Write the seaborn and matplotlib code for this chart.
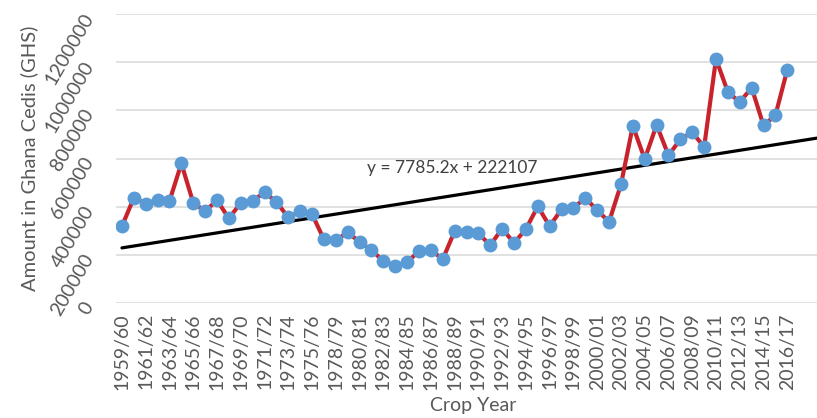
import numpy as np
import pandas as pd
import matplotlib
matplotlib.use("Agg")
import matplotlib.pyplot as plt
import seaborn as sns

# crop years (1977/78 is absent in the source series)
crop_years = [
    "1959/60", "1960/61", "1961/62", "1962/63", "1963/64", "1964/65", "1965/66",
    "1966/67", "1967/68", "1968/69", "1969/70", "1970/71", "1971/72", "1972/73",
    "1973/74", "1974/75", "1975/76", "1976/77", "1978/79", "1979/80", "1980/81",
    "1981/82", "1982/83", "1983/84", "1984/85", "1985/86", "1986/87", "1987/88",
    "1988/89", "1989/90", "1990/91", "1991/92", "1992/93", "1993/94", "1994/95",
    "1995/96", "1996/97", "1997/98", "1998/99", "1999/00", "2000/01", "2001/02",
    "2002/03", "2003/04", "2004/05", "2005/06", "2006/07", "2007/08", "2008/09",
    "2009/10", "2010/11", "2011/12", "2012/13", "2013/14", "2014/15", "2015/16",
    "2016/17",
]

# amount in Ghana cedis
amount_ghs = [
    320000, 437000, 414000, 428000, 424000, 580000, 417000, 382000, 428000, 352000,
    417000, 425000, 460000, 421000, 356000, 382000, 370000, 265000, 262000, 294000,
    255000, 221000, 175000, 156000, 170000, 217000, 221000, 183000, 299000, 294000,
    290000, 241000, 310000, 250000, 308000, 402000, 320000, 390000, 396000, 437000,
    386000, 338000, 493000, 736000, 598000, 740000, 614000, 680000, 710000, 648000,
    1014000, 876000, 835000, 894000, 738000, 780000, 969000,
]

# linear trend as printed on the chart (x = 1, 2, 3, ...)
trend_slope = 7785.2
trend_intercept = 222107
trend_label = "y = 7785.2x + 222107"

y_ticks = [0, 200000, 400000, 600000, 800000, 1000000, 1200000]

df = pd.DataFrame({"year": crop_years, "amount": amount_ghs})
df["pos"] = np.arange(len(df))

sns.set_theme(style="white")
plt.rcParams["font.family"] = ["Lato", "DejaVu Sans"]

fig = plt.figure(figsize=(8.17, 4.18), dpi=100)
ax = fig.add_axes([0.142, 0.2744, 0.858, 0.692])

x_right = 58.5
ax.set_xlim(-0.5, x_right)
ax.set_ylim(0, 1200000)

for t in y_ticks:
    ax.axhline(t, color="#D9D9D9", lw=1.1, zorder=0)

# trend line from the printed equation, extended to the right edge
tx = np.array([0, x_right])
ax.plot(tx, trend_slope * (tx + 1) + trend_intercept, color="black", lw=2.3, zorder=2)

sns.lineplot(data=df, x="pos", y="amount", ax=ax, color="#C8232C", lw=3.0,
             marker="o", markersize=10, markerfacecolor="#5B9BD5",
             markeredgecolor="#5B9BD5", markeredgewidth=0, zorder=3)

ax.text(20.6, 560000, trend_label, fontsize=12.5, color="#404040", va="center", ha="left")

for s in ax.spines.values():
    s.set_visible(False)

ax.set_xticks(df["pos"][::2])
ax.set_xticklabels(df["year"][::2], rotation=90, fontsize=14, color="#595959")
ax.tick_params(axis="x", length=0, pad=7)

ax.set_yticks(y_ticks)
ax.set_yticklabels([str(v) for v in y_ticks], fontsize=14, color="#595959")
plt.setp(ax.get_yticklabels(), rotation=60, rotation_mode="anchor", ha="right", va="center")
ax.tick_params(axis="y", length=0, pad=19)

ax.set_xlabel("Crop Year", fontsize=14, color="#595959")
ax.set_ylabel("Amount in Ghana Cedis (GHS)", fontsize=14.5, color="#595959")
ax.xaxis.set_label_coords(0.51, -0.325)
ax.yaxis.set_label_coords(-0.111, 0.5)

fig.savefig("out.png", dpi=100)
